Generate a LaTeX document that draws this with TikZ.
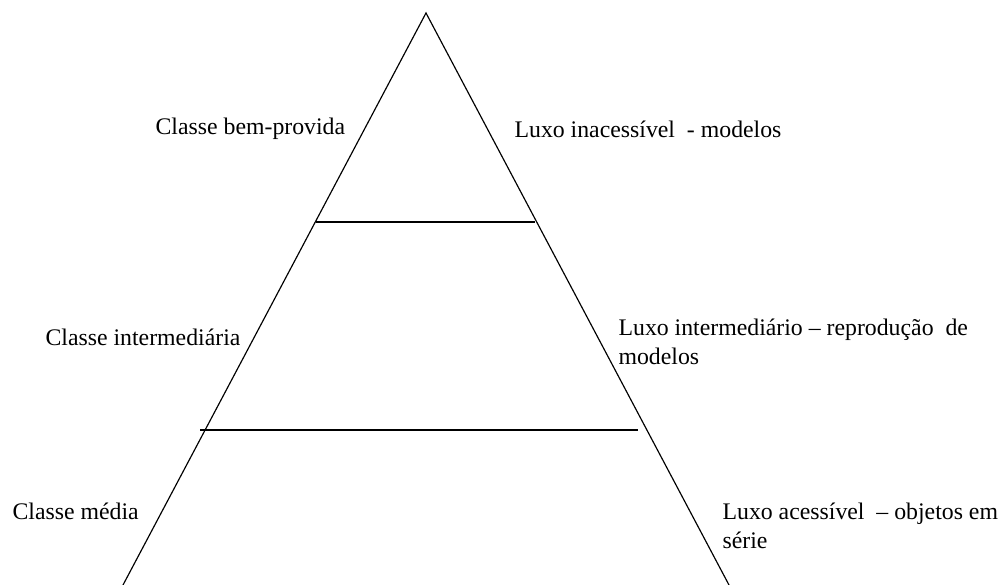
\documentclass[tikz,border=0pt]{standalone}
\usepackage{fontspec}
\setmainfont{Liberation Serif}
\usepackage{tikz}

\begin{document}
\begin{tikzpicture}[x=0.03cm,y=-0.03cm,line width=1pt,
  every node/.style={inner sep=0,font=\fontsize{20.3}{25}\selectfont,align=left,anchor=west}]

\useasboundingbox (0,0) rectangle (1000,585);

% piramide
\coordinate (topo) at (426,13);
\coordinate (baseesq) at (123,585);
\coordinate (basedir) at (729,585);
\draw (baseesq) -- (topo) -- (basedir);

\draw (316,222) -- (535,222);
\draw (200,430) -- (638,430);

% classes
\node (bemprovida) at (155,129) {Classe bem-provida};
\node (intermediaria) at (45,337) {Classe intermediária};
\node (media) at (12,511) {Classe média};

% luxo
\node (inacessivel) at (514,129) {Luxo inacessível ~- modelos};
\node (intermediario) at (618,341.5) {Luxo intermediário – reprodução ~de\\modelos};
\node (acessivel) at (722,526) {Luxo acessível ~– objetos em\\série};

\end{tikzpicture}
\end{document}
